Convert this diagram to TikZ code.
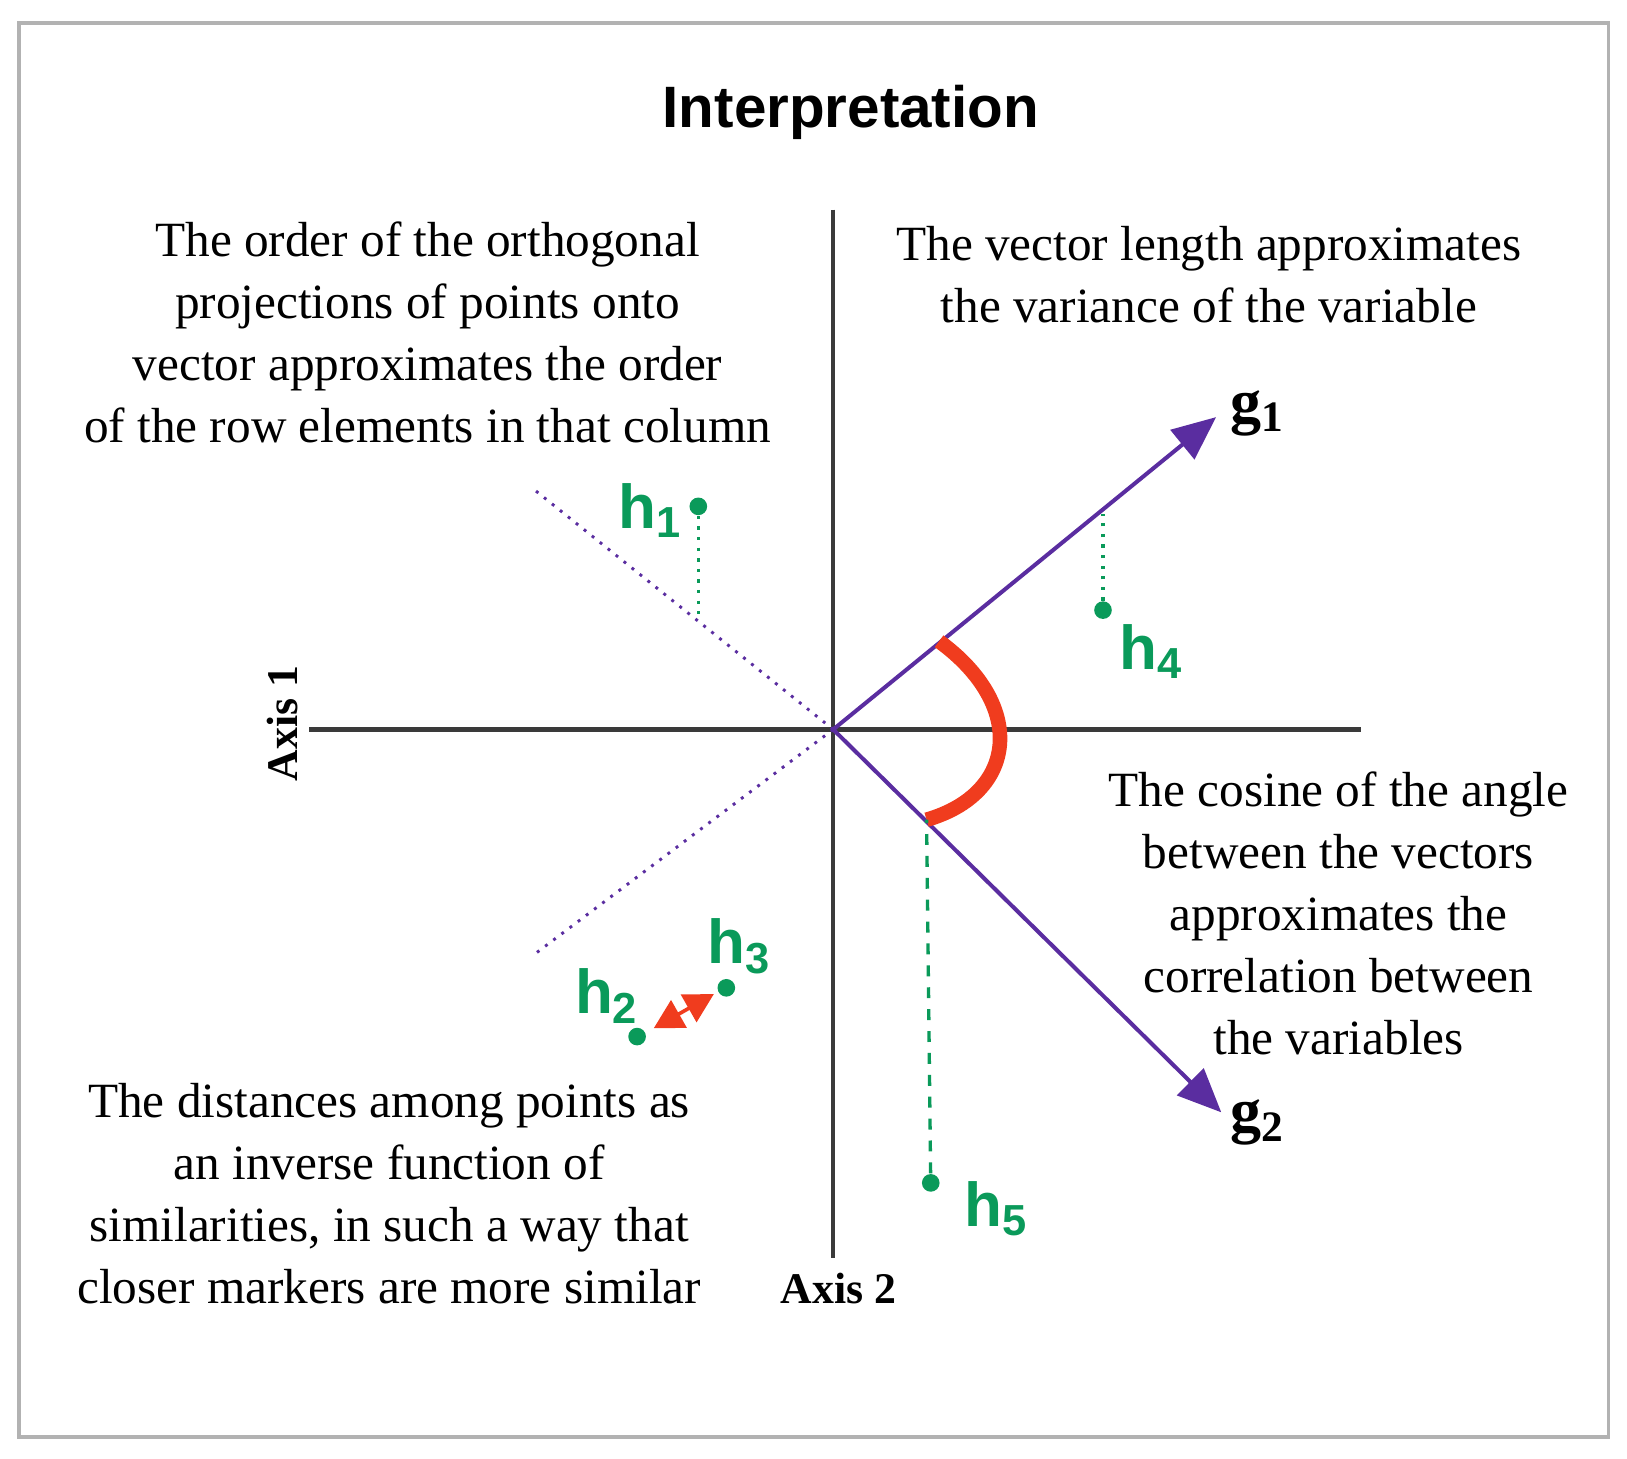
\documentclass[tikz,border=0pt]{standalone}
\usepackage{fontspec}
\setmainfont{Liberation Serif}
\newfontfamily\sansf{Liberation Sans}
\usetikzlibrary{arrows.meta}
\definecolor{vio}{HTML}{5A2DA0}
\definecolor{grn}{HTML}{0A9A5A}
\definecolor{rd}{HTML}{F03C1E}
\definecolor{ax}{HTML}{3A3A3A}
\begin{document}
\begin{tikzpicture}[x=0.01cm,y=-0.01cm,
  txt/.style={align=center,font=\fontsize{13.5}{17}\selectfont,inner sep=0pt},
  hl/.style={text=grn,font=\sansf\bfseries\fontsize{17}{17}\selectfont,inner sep=0pt},
  gl/.style={font=\bfseries\fontsize{17}{17}\selectfont,inner sep=0pt},
  dot/.style={circle,fill=grn,inner sep=0pt,minimum size=0.17cm},
  vec/.style={vio,line width=1.1pt,-{Triangle[length=0.42cm,width=0.36cm]}},
  axl/.style={font=\bfseries\fontsize{12}{12}\selectfont,inner sep=0pt}]
\useasboundingbox (0,0) rectangle (1568,1406);
\draw[gray!60,line width=1pt] (18,22) rectangle (1550,1385);
\node[font=\sansf\bfseries\fontsize{16}{16}\selectfont] (title) at (820,108) {Interpretation};
\coordinate (O) at (803,703);
\coordinate (at) at (803,202); \coordinate (ab) at (803,1212);
\coordinate (al) at (298,703); \coordinate (ar) at (1312,703);
\draw[ax,line width=1.2pt] (at) -- (ab);
\draw[ax,line width=1.2pt] (al) -- (ar);
\node[axl,rotate=90] (ax1) at (272,697) {Axis 1};
\node[axl] (ax2) at (808,1242) {Axis 2};
\node[txt] (t1) at (412,320) {The order of the orthogonal\\projections of points onto\\vector approximates the order\\of the row elements in that column};
\node[txt] (t2) at (1165,265) {The vector length approximates\\the variance of the variable};
\node[txt] (t3) at (1290,880) {The cosine of the angle\\between the vectors\\approximates the\\correlation between\\the variables};
\node[txt] (t4) at (375,1150) {The distances among points as\\an inverse function of\\similarities, in such a way that\\closer markers are more similar};
\coordinate (d1) at (515,472); \coordinate (d2) at (512,922);
\draw[vio,dotted,line width=0.8pt] (O) -- (d1);
\draw[vio,dotted,line width=0.8pt] (O) -- (d2);
\coordinate (g1e) at (1172,402); \coordinate (g2e) at (1177,1072);
\draw[vec] (O) -- (g1e);
\draw[vec] (O) -- (g2e);
\node[gl] (g1) at (1212,398) {g$_{\mathbf 1}$};
\node[gl] (g2) at (1212,1082) {g$_{\mathbf 2}$};
\coordinate (a1) at (905,618); \coordinate (a2) at (893,790);
\draw[rd,line width=4pt] (a1) .. controls (990,680) and (980,765) .. (a2);
\node[dot] (h1) at (673,488) {}; \coordinate (p1) at (673,593);
\node[dot] (h4) at (1063,588) {}; \coordinate (p4) at (1063,495);
\node[dot] (h5) at (897,1140) {};
\node[dot] (h3) at (700,952) {};
\node[dot] (h2) at (614,999) {};
\draw[grn,dotted,line width=0.9pt] (h1) -- (p1);
\draw[grn,dotted,line width=0.9pt] (h4) -- (p4);
\draw[grn,dashed,line width=0.9pt] (h5) -- (a2);
\node[hl] (l1) at (627,492) {h\textsubscript{1}};
\node[hl] (l4) at (1110,628) {h\textsubscript{4}};
\node[hl] (l5) at (960,1165) {h\textsubscript{5}};
\node[hl] (l3) at (713,912) {h\textsubscript{3}};
\node[hl] (l2) at (585,960) {h\textsubscript{2}};
\coordinate (r1) at (630,991); \coordinate (r2) at (688,958);
\draw[rd,line width=1pt,{Triangle[length=0.28cm,width=0.3cm]}-{Triangle[length=0.28cm,width=0.3cm]}] (r1) -- (r2);
\end{tikzpicture}
\end{document}
